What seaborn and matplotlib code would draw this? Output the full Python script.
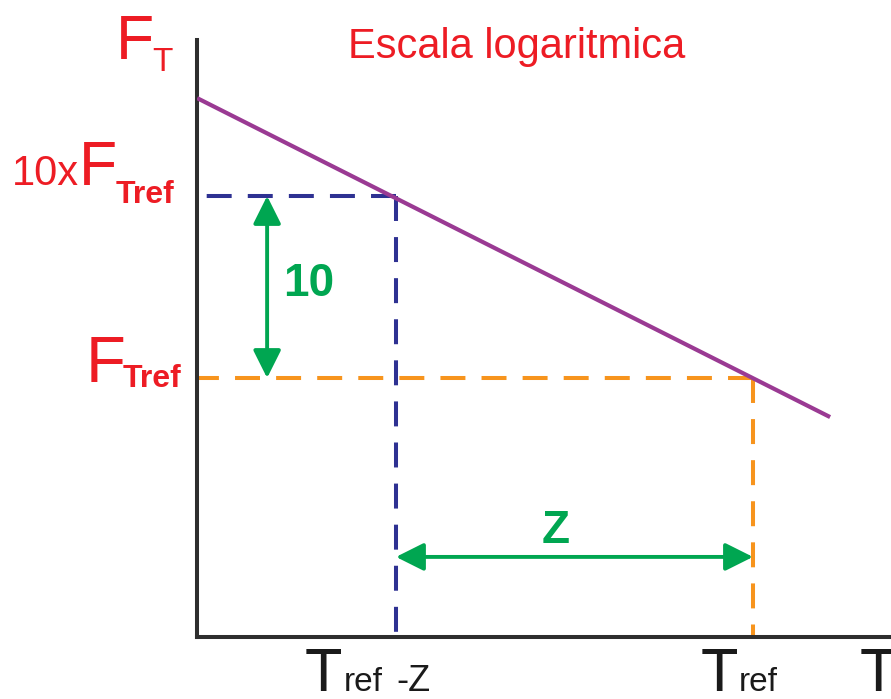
import matplotlib
matplotlib.use("Agg")
import matplotlib.pyplot as plt
import pandas as pd
import seaborn as sns

# Thermal death line on a logarithmic F axis
T_REF = 20.0          # reference temperature
Z_VALUE = 10.0        # z-value (temperature rise for a tenfold change)
F_REF = 1.0           # F at the reference temperature
F_TEN = 10.0          # ten times the reference F

line_T = [4.43, 22.16]
line_F = [34.5, 0.61]

x_limits = [4.426, 23.866]
y_limits = [0.03776, 71.96]

arrow_T_vertical = 6.39
arrow_F_horizontal = 0.104

RED = "#ED1C24"
GREEN = "#00A651"
PURPLE = "#9A3A93"
BLUE = "#2E3192"
ORANGE = "#F7941D"
AXIS = "#2E2E2E"

sns.set_theme(style="white")
plt.rcParams["font.family"] = ["Liberation Sans", "DejaVu Sans"]

fig = plt.figure(figsize=(8.91, 6.99), dpi=100)
W, H = 891, 699
ax = fig.add_axes([197 / W, 62 / H, 694 / W, 597 / H])
ax.set_yscale("log")
ax.set_xlim(*x_limits)
ax.set_ylim(*y_limits)

df = pd.DataFrame({"T": line_T, "F": line_F})
sns.lineplot(data=df, x="T", y="F", ax=ax, color=PURPLE, lw=3.0,
             solid_capstyle="butt", zorder=3)
ax.set_xlabel("")
ax.set_ylabel("")

xmin, _ = ax.get_xlim()
ymin, _ = ax.get_ylim()
dash = (6.2, 4.0)

# Blue guide: 10 x F_Tref at Tref - Z
t_low = T_REF - Z_VALUE
ax.plot([t_low, xmin], [F_TEN, F_TEN], color=BLUE, lw=2.9, dashes=dash,
        dash_capstyle="butt", zorder=2)
ax.plot([t_low, t_low], [F_TEN, ymin], color=BLUE, lw=2.9, dashes=dash,
        dash_capstyle="butt", zorder=2)

# Orange guide: F_Tref at Tref
ax.plot([T_REF, xmin], [F_REF, F_REF], color=ORANGE, lw=2.9, dashes=dash,
        dash_capstyle="butt", zorder=2)
ax.plot([T_REF, T_REF], [F_REF, ymin], color=ORANGE, lw=2.9, dashes=dash,
        dash_capstyle="butt", zorder=2)

arrow_props = dict(arrowstyle="<|-|>,head_length=1.0,head_width=0.5",
                   mutation_scale=17, color=GREEN, lw=2.8,
                   shrinkA=0, shrinkB=0)
ax.annotate("", xy=(arrow_T_vertical, F_TEN), xytext=(arrow_T_vertical, F_REF),
            arrowprops=arrow_props, zorder=4)
ax.annotate("", xy=(t_low, arrow_F_horizontal), xytext=(T_REF, arrow_F_horizontal),
            arrowprops=arrow_props, zorder=4)

ax.text(6.83, 3.3, "10", color=GREEN, fontsize=33, fontweight="bold",
        ha="left", va="center")
ax.text(14.48, 0.145, "Z", color=GREEN, fontsize=33, fontweight="bold",
        ha="center", va="center")

# Axes: only left and bottom spines, no ticks
for side in ("top", "right"):
    ax.spines[side].set_visible(False)
for side in ("left", "bottom"):
    ax.spines[side].set_color(AXIS)
    ax.spines[side].set_linewidth(2.9)
ax.set_xticks([])
ax.set_yticks([])
ax.set_yticks([], minor=True)
ax.set_xticks([], minor=True)


def piece(text, xy, coords, dx, dy, size, weight="normal", color=RED):
    ax.annotate(text, xy=xy, xycoords=coords, xytext=(dx, dy),
                textcoords="offset pixels", ha="left", va="baseline",
                fontsize=size, fontweight=weight, color=color,
                annotation_clip=False)


ycoords = ("axes fraction", "data")
xcoords = ("data", "axes fraction")

# F_T axis title
piece("F", (0, 1), "axes fraction", -81, -19, 45)
piece("T", (0, 1), "axes fraction", -45, -31, 24)

# 10 x F_Tref
piece("10x", (0, F_TEN), ycoords, -185, 11, 30)
piece("F", (0, F_TEN), ycoords, -118, 11, 45)
piece("Tref", (0, F_TEN), ycoords, -81, -7, 23, "bold")

# F_Tref
piece("F", (0, F_REF), ycoords, -111, -4, 47)
piece("Tref", (0, F_REF), ycoords, -74, -9, 23, "bold")

# x labels
LBL = "#1A1A1A"
base = -54
piece("T", (t_low, 0), xcoords, -91, base, 44, color=LBL)
piece("ref", (t_low, 0), xcoords, -52, base, 24, color=LBL)
piece("-Z", (t_low, 0), xcoords, 0, base, 26, color=LBL)
piece("T", (T_REF, 0), xcoords, -52, base, 44, color=LBL)
piece("ref", (T_REF, 0), xcoords, -14, base, 24, color=LBL)
piece("T", (1, 0), "axes fraction", -31, base, 44, color=LBL)

fig.text(517 / W, 1 - 47 / H, "Escala logaritmica", color=RED, fontsize=30,
         ha="center", va="center")

fig.savefig("out.png", dpi=100, facecolor="white")
